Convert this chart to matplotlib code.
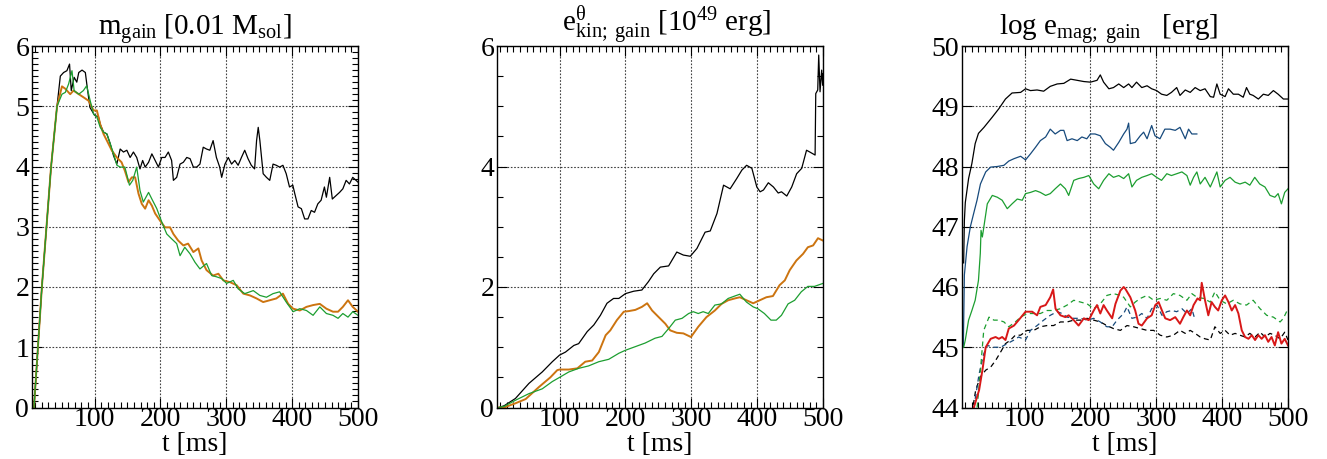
import matplotlib
matplotlib.use("Agg")
import matplotlib.pyplot as plt
from matplotlib.ticker import MultipleLocator, NullLocator

plt.rcParams['font.family'] = ['Liberation Serif', 'DejaVu Serif']
plt.rcParams['mathtext.fontset'] = 'custom'
plt.rcParams['mathtext.rm'] = 'Liberation Serif'
plt.rcParams['mathtext.it'] = 'Liberation Serif:italic'
plt.rcParams['mathtext.default'] = 'rm'

# ---------------- data ----------------
rise_t = [8, 14, 20, 27, 34, 43]
rise_v = [0, 1, 2, 3, 4, 5]

m_black_t = rise_t + [48, 53, 58, 62, 64.6, 69, 73, 76, 81, 86, 89, 93, 100, 106, 108.6, 113.6, 118.7, 123.7, 128.8, 133.8, 138.9, 143.9, 149, 154, 159, 164, 169, 173, 176.8, 182, 187, 192, 197, 202, 207, 212, 217, 219.7, 224.7, 229.8, 234.8, 240, 245, 250, 255, 260, 265, 270, 275, 280, 285, 290, 293, 298, 303, 308, 313, 318, 323, 328, 333, 338, 343, 346, 348.5, 351, 356, 361, 366, 371, 376, 381, 386, 391, 396, 401, 404, 409, 414, 419, 424, 429, 434, 439, 444, 449, 452, 457, 461, 467, 472, 477, 482, 487, 492, 500]
m_black_v = rise_v + [5.5, 5.56, 5.59, 5.7, 5.26, 5.48, 5.4, 5.56, 5.6, 5.56, 5.3, 4.98, 4.85, 4.82, 4.7, 4.57, 4.54, 4.38, 4.18, 4.04, 4.29, 4.24, 4.27, 4.15, 4.24, 4.15, 3.96, 4.1, 3.99, 4.07, 4.21, 4.1, 3.99, 4.15, 4.15, 4.24, 4.1, 3.77, 3.82, 4.04, 4.07, 4.15, 4.13, 3.99, 3.99, 4.04, 4.32, 4.29, 4.27, 4.43, 4.15, 3.99, 3.82, 4.04, 4.15, 4.04, 4.10, 4.02, 4.15, 4.27, 4.13, 4.02, 3.96, 4.43, 4.65, 4.43, 3.88, 3.82, 3.77, 4.04, 4.02, 3.99, 4.02, 3.88, 3.66, 3.69, 3.55, 3.33, 3.30, 3.13, 3.13, 3.27, 3.24, 3.38, 3.44, 3.66, 3.49, 3.82, 3.46, 3.52, 3.57, 3.63, 3.77, 3.71, 3.82, 3.74]

m_orange_t = rise_t + [50.5, 55.6, 63, 68, 76, 83, 91, 98.5, 103.5, 108.6, 113.6, 118.7, 126, 133.8, 141, 146, 151.5, 156.6, 161.6, 166.7, 171.7, 176.8, 182, 187, 192, 199.5, 207, 214.6, 219.7, 227, 234.8, 242, 250, 257.6, 262.6, 270, 280, 288, 295.5, 305.6, 315.7, 325.8, 336, 346, 356, 366, 376, 386, 394, 401.5, 411.6, 421.7, 431.8, 442, 452, 462, 469.7, 477, 484.8, 492, 500]
m_orange_v = rise_v + [5.33, 5.29, 5.2, 5.26, 5.2, 5.15, 5.09, 4.93, 4.93, 4.7, 4.54, 4.43, 4.27, 4.15, 4.07, 3.93, 3.74, 3.82, 3.82, 3.55, 3.38, 3.30, 3.44, 3.35, 3.22, 3.10, 2.99, 2.99, 2.88, 2.77, 2.69, 2.72, 2.58, 2.64, 2.44, 2.28, 2.19, 2.22, 2.11, 2.08, 2.03, 1.89, 1.86, 1.81, 1.75, 1.78, 1.81, 1.89, 1.72, 1.64, 1.61, 1.67, 1.70, 1.72, 1.64, 1.59, 1.59, 1.67, 1.78, 1.67, 1.59]

m_green_t = rise_t + [50.5, 55.6, 60.6, 65.7, 69, 76, 83, 88, 93.4, 98.5, 103.5, 108.6, 113.6, 118.7, 123.7, 128.8, 134, 139, 146, 153, 158, 164, 169, 174, 182, 187, 194.5, 202, 209.6, 217, 224.7, 229.8, 237, 245, 252.5, 260, 270, 277.8, 285, 293, 300.5, 310.6, 318, 328, 341, 351, 361, 371, 381, 391, 401.5, 411.6, 421.7, 431.8, 442, 452, 462, 469.7, 477, 484.8, 492, 500]
m_green_v = rise_v + [5.2, 5.23, 5.37, 5.59, 5.26, 5.2, 5.26, 5.34, 5.09, 4.87, 4.82, 4.65, 4.57, 4.54, 4.38, 4.21, 4.02, 3.99, 3.99, 3.69, 3.77, 3.99, 3.60, 3.41, 3.57, 3.46, 3.30, 3.08, 2.88, 2.80, 2.72, 2.52, 2.66, 2.55, 2.41, 2.30, 2.39, 2.19, 2.17, 2.14, 2.06, 2.11, 1.97, 1.89, 1.94, 1.86, 1.83, 1.89, 1.92, 1.75, 1.59, 1.64, 1.61, 1.53, 1.67, 1.56, 1.53, 1.48, 1.56, 1.50, 1.59, 1.53]

k_black_t = [8, 16, 33, 53.5, 73.7, 89, 100, 109, 121.7, 129, 142, 152, 162, 172, 182, 190, 200, 212.6, 225, 235, 243, 253, 265.6, 278, 288, 298.5, 308.6, 321, 328.8, 339, 349, 359, 369, 376.8, 384, 392, 399.5, 404.5, 409.6, 417, 424.7, 432, 437, 445, 452.5, 460, 467.7, 475, 480, 488, 489, 492, 493.5, 495.5, 498, 499.5, 500]
k_black_v = [0, 0.03, 0.15, 0.40, 0.59, 0.76, 0.87, 0.92, 1.03, 1.06, 1.26, 1.37, 1.53, 1.73, 1.81, 1.81, 1.89, 1.93, 1.95, 2.09, 2.22, 2.33, 2.35, 2.58, 2.53, 2.51, 2.64, 2.91, 2.93, 3.22, 3.69, 3.63, 3.80, 3.94, 4.02, 3.97, 3.66, 3.58, 3.61, 3.73, 3.66, 3.56, 3.58, 3.51, 3.66, 3.88, 3.97, 4.27, 4.24, 4.19, 5.21, 5.27, 5.85, 5.24, 5.6, 5.35, 5.54]

k_orange_t = [8, 15.7, 33, 48.5, 68.7, 86, 96.5, 100, 114, 127, 139, 149.5, 159.6, 170, 177, 187, 197.5, 205, 215, 225, 233, 240.5, 250.5, 260.6, 268, 278, 288, 299.5, 310.6, 323, 335.8, 346, 356, 366, 373.7, 383.8, 394, 404, 414, 424, 434, 442, 449.5, 459.6, 469.7, 477, 485, 492.4, 500]
k_orange_v = [0, 0, 0.07, 0.14, 0.34, 0.5, 0.62, 0.63, 0.63, 0.65, 0.76, 0.78, 0.92, 1.2, 1.28, 1.45, 1.59, 1.60, 1.62, 1.67, 1.73, 1.61, 1.50, 1.39, 1.28, 1.24, 1.23, 1.17, 1.34, 1.50, 1.61, 1.72, 1.78, 1.81, 1.83, 1.78, 1.73, 1.78, 1.83, 1.85, 2.03, 2.11, 2.28, 2.44, 2.55, 2.66, 2.69, 2.81, 2.77]

k_green_t = [8, 16, 33, 53.5, 73.7, 88.9, 100, 114, 129, 144, 159.6, 174.7, 190, 200, 215, 230, 245, 255.5, 265.6, 275.7, 286, 296, 303, 310.6, 318, 325.8, 335.8, 346, 356, 366, 373.7, 383.8, 394, 401, 411, 421, 429, 436.9, 447, 457, 467, 477, 487, 500]
k_green_v = [0, 0.02, 0.12, 0.23, 0.31, 0.43, 0.50, 0.59, 0.65, 0.69, 0.76, 0.80, 0.90, 0.95, 1.01, 1.07, 1.15, 1.18, 1.31, 1.45, 1.48, 1.56, 1.59, 1.56, 1.59, 1.56, 1.70, 1.72, 1.81, 1.85, 1.88, 1.75, 1.67, 1.64, 1.56, 1.45, 1.45, 1.53, 1.72, 1.78, 1.92, 2.01, 2.01, 2.06]

b_black_t = [7.5, 8.6, 10, 15, 20, 25, 30, 38.4, 51, 61, 71, 81, 94, 101.5, 109, 119, 129, 139, 149.5, 159.6, 170, 180, 190, 200, 210, 215, 220, 228, 235, 243, 250.5, 258, 263, 270, 278, 286, 293, 300.5, 308, 316, 323, 331, 336, 344, 351.5, 359, 366.7, 374, 382, 387, 392, 397, 404.5, 409.6, 417, 424.7, 432, 437, 442, 447, 455, 462.6, 470, 477.8, 485, 493, 500]
b_black_v = [46.4, 47.1, 47.4, 47.8, 48.05, 48.38, 48.55, 48.65, 48.82, 48.96, 49.12, 49.22, 49.23, 49.29, 49.26, 49.27, 49.25, 49.33, 49.37, 49.38, 49.45, 49.43, 49.41, 49.40, 49.43, 49.52, 49.40, 49.29, 49.31, 49.37, 49.31, 49.37, 49.31, 49.40, 49.31, 49.34, 49.29, 49.26, 49.2, 49.18, 49.23, 49.31, 49.18, 49.27, 49.23, 49.31, 49.26, 49.29, 49.16, 49.15, 49.37, 49.2, 49.16, 49.29, 49.2, 49.2, 49.15, 49.31, 49.2, 49.18, 49.12, 49.2, 49.18, 49.26, 49.2, 49.12, 49.12]

b_blue_t = [7, 8.6, 12.7, 17.7, 22.7, 27.8, 33, 41, 48.5, 58.6, 68.7, 76, 84, 94, 101.5, 109, 116.7, 124, 132, 139, 146.5, 154.5, 159.6, 164.6, 172, 180, 187, 194.5, 200, 207, 215, 222.7, 230, 235, 243, 250.5, 255.5, 258, 260.6, 268, 275.7, 280.8, 286, 293, 298, 305.6, 313, 321, 328.8, 336, 344, 349, 354, 361.6]
b_blue_v = [45.0, 46.2, 46.67, 47.0, 47.22, 47.44, 47.71, 47.91, 47.99, 48.0, 48.02, 48.09, 48.13, 48.17, 48.11, 48.21, 48.32, 48.43, 48.49, 48.62, 48.54, 48.6, 48.6, 48.43, 48.46, 48.43, 48.49, 48.46, 48.54, 48.54, 48.51, 48.38, 48.32, 48.27, 48.40, 48.54, 48.62, 48.72, 48.38, 48.40, 48.51, 48.57, 48.46, 48.68, 48.51, 48.46, 48.62, 48.62, 48.6, 48.65, 48.46, 48.62, 48.54, 48.54]

b_green_t = [7.6, 10, 15, 20, 25, 30, 32.8, 33.9, 35.9, 43.4, 51, 58.6, 66, 73.7, 81, 88.9, 96.5, 101.5, 109, 116.7, 124, 132, 139, 146.5, 154.5, 162, 167, 174.7, 182, 190, 197.5, 205, 212.6, 220, 228, 235, 243, 250.5, 258, 263, 270, 278, 286, 293, 300.5, 308, 316, 323, 331, 338.9, 346.5, 351.5, 356.6, 361.6, 366.7, 374, 382, 392, 397, 404.5, 412, 419.7, 427, 435, 442, 449.5, 457, 465, 472.7, 480, 485, 490, 495, 500]
b_green_v = [45.0, 45.12, 45.45, 45.61, 45.78, 46.11, 46.56, 46.94, 46.83, 47.38, 47.52, 47.49, 47.44, 47.30, 47.38, 47.46, 47.44, 47.55, 47.57, 47.6, 47.57, 47.52, 47.55, 47.63, 47.71, 47.63, 47.52, 47.77, 47.80, 47.82, 47.85, 47.71, 47.63, 47.77, 47.88, 47.82, 47.85, 47.80, 47.88, 47.66, 47.77, 47.82, 47.85, 47.88, 47.82, 47.77, 47.88, 47.85, 47.88, 47.91, 47.85, 47.69, 47.82, 47.91, 47.71, 47.82, 47.66, 47.91, 47.66, 47.77, 47.82, 47.74, 47.71, 47.74, 47.69, 47.82, 47.71, 47.66, 47.52, 47.49, 47.55, 47.38, 47.57, 47.63]

b_red_t = [23, 31, 36, 41, 48.5, 56, 61, 66, 71, 76, 84, 91, 101.5, 111.6, 119, 124, 132, 139, 143.4, 147, 154.5, 162, 167, 174.7, 182, 190, 197.5, 205, 210, 215, 220, 225, 233, 238, 245.5, 250.5, 253, 260.6, 268, 273, 278, 286, 293, 298.5, 303.5, 308.6, 313.6, 321, 328.8, 336, 341, 346.5, 351.5, 356.6, 362.6, 366.7, 369, 374, 379, 384, 389, 394, 399.5, 404.5, 409.6, 414.6, 419.7, 424.7, 429.8, 434.8, 440, 445, 450, 455, 460, 465, 470, 475, 480, 485, 490, 495, 500]
b_red_v = [44.0, 44.29, 44.62, 45.0, 45.14, 45.17, 45.14, 45.17, 45.12, 45.31, 45.36, 45.45, 45.59, 45.59, 45.53, 45.67, 45.70, 45.83, 45.96, 45.64, 45.53, 45.50, 45.53, 45.45, 45.36, 45.48, 45.45, 45.61, 45.70, 45.56, 45.70, 45.61, 45.48, 45.72, 45.94, 46.0, 45.97, 45.83, 45.61, 45.39, 45.36, 45.48, 45.53, 45.70, 45.75, 45.61, 45.48, 45.45, 45.50, 45.39, 45.50, 45.61, 45.53, 45.70, 45.81, 45.78, 46.07, 45.78, 45.53, 45.75, 45.67, 45.61, 45.78, 45.86, 45.75, 45.61, 45.70, 45.56, 45.28, 45.17, 45.14, 45.20, 45.12, 45.20, 45.14, 45.20, 45.09, 45.17, 45.03, 45.25, 45.06, 45.14, 45.03]

b_greend_t = [28, 33, 38, 46, 53.5, 61, 68.7, 76, 86, 94, 104, 114, 124, 134, 144, 154.5, 164.6, 174.7, 185, 195, 205, 215, 225, 235, 245.5, 250.5, 260.6, 268, 275.7, 286, 296, 306, 316, 326, 336, 346.5, 354, 361.6, 372, 382, 389, 397, 407, 417, 427, 437, 447, 457.6, 467.7, 477.8, 488, 493, 500]
b_greend_v = [44.0, 44.62, 45.28, 45.50, 45.45, 45.45, 45.42, 45.34, 45.42, 45.50, 45.56, 45.56, 45.56, 45.61, 45.61, 45.64, 45.70, 45.78, 45.75, 45.72, 45.64, 45.72, 45.86, 45.89, 45.86, 45.83, 45.67, 45.75, 45.81, 45.86, 45.78, 45.81, 45.78, 45.89, 45.86, 45.78, 45.89, 45.83, 45.81, 45.75, 45.92, 45.78, 45.72, 45.78, 45.72, 45.70, 45.78, 45.64, 45.53, 45.50, 45.42, 45.48, 45.64]

b_blued_t = [23, 31, 38, 43.4, 53.5, 63.6, 73.7, 84, 91, 101.5, 109, 119, 129, 139, 149.5, 157, 164.6, 174.7, 185, 195, 205, 215, 225, 233, 240.4, 250.5, 255.5, 263, 270.7, 278, 286, 293, 301, 308.6, 316, 323.7, 331, 339, 346.5, 354, 357.6]
b_blued_v = [44.0, 44.56, 44.89, 45.03, 45.0, 45.0, 45.06, 45.12, 45.17, 45.12, 45.28, 45.36, 45.45, 45.53, 45.59, 45.56, 45.50, 45.48, 45.48, 45.45, 45.48, 45.42, 45.34, 45.34, 45.45, 45.56, 45.67, 45.48, 45.50, 45.56, 45.48, 45.64, 45.70, 45.53, 45.59, 45.61, 45.59, 45.64, 45.56, 45.64, 45.50]

b_blackd_t = [20, 25.8, 33, 41, 48.5, 56, 63.6, 71, 78.8, 86, 94, 104, 114, 124, 134, 144, 154.5, 164.6, 174.7, 185, 195, 205, 215, 225, 235, 245.5, 255.5, 265.6, 275.7, 286, 296, 306, 316, 326, 336, 344, 351.5, 359, 366.7, 374, 382, 389, 397, 404.5, 412, 419.7, 427, 434.8, 442, 450, 457.6, 465, 472.7, 480, 488, 495, 500]
b_blackd_v = [43.9, 44.29, 44.51, 44.62, 44.67, 44.78, 44.92, 45.06, 45.12, 45.20, 45.20, 45.28, 45.28, 45.34, 45.36, 45.36, 45.42, 45.42, 45.45, 45.45, 45.48, 45.45, 45.42, 45.36, 45.31, 45.28, 45.36, 45.34, 45.31, 45.28, 45.28, 45.20, 45.17, 45.20, 45.28, 45.23, 45.28, 45.23, 45.17, 45.14, 45.12, 45.34, 45.23, 45.28, 45.20, 45.23, 45.20, 45.17, 45.23, 45.17, 45.25, 45.17, 45.23, 45.20, 45.14, 45.25, 45.12]

titles = [r'$\mathrm{m_{gain}\ [0.01\ M_{sol}]}$',
          r'$\mathrm{e^{\theta}_{kin;\ gain}\ [10^{49}\ erg]}$',
          r'$\mathrm{log\ e_{mag;\ gain}\quad [erg]}$']
title_x = [0.5, 0.52, 0.45]
xticks = [100, 200, 300, 400, 500]

C_BLACK = '#000000'
C_ORANGE = '#cc7410'
C_GREEN = '#1c9e30'
C_BLUE = '#174a7c'
C_RED = '#d81818'

# ---------------- figure ----------------
W, H = 1327, 459
fig = plt.figure(figsize=(W / 100, H / 100), dpi=100)
lefts = [32, 497, 962]
ax_w = 326
top, bottom = 46, 407.5
axes = [fig.add_axes([l / W, 1 - bottom / H, ax_w / W, (bottom - top) / H]) for l in lefts]

ax1, ax2, ax3 = axes
ax1.plot(m_black_t, m_black_v, color=C_BLACK, lw=0.9)
ax1.plot(m_orange_t, m_orange_v, color=C_ORANGE, lw=1.4)
ax1.plot(m_green_t, m_green_v, color=C_GREEN, lw=0.9)
ax1.set_ylim(0, 6)
ax1.yaxis.set_major_locator(MultipleLocator(1))
ax1.yaxis.set_minor_locator(MultipleLocator(0.1))

ax2.plot(k_black_t, k_black_v, color=C_BLACK, lw=0.9)
ax2.plot(k_orange_t, k_orange_v, color=C_ORANGE, lw=1.4)
ax2.plot(k_green_t, k_green_v, color=C_GREEN, lw=0.9)
ax2.set_ylim(0, 6)
ax2.yaxis.set_major_locator(MultipleLocator(2))
ax2.yaxis.set_minor_locator(MultipleLocator(0.5))

ax3.plot(b_black_t, b_black_v, color=C_BLACK, lw=0.9)
ax3.plot(b_blue_t, b_blue_v, color=C_BLUE, lw=0.9)
ax3.plot(b_green_t, b_green_v, color=C_GREEN, lw=0.9)
ax3.plot(b_blackd_t, b_blackd_v, color=C_BLACK, lw=0.9, ls=(0, (4, 3)))
ax3.plot(b_blued_t, b_blued_v, color=C_BLUE, lw=0.9, ls=(0, (4, 3)))
ax3.plot(b_greend_t, b_greend_v, color=C_GREEN, lw=0.9, ls=(0, (4, 3)))
ax3.plot(b_red_t, b_red_v, color=C_RED, lw=1.4)
ax3.set_ylim(44, 50)
ax3.yaxis.set_major_locator(MultipleLocator(1))
ax3.yaxis.set_minor_locator(NullLocator())

for ax, title, tx in zip(axes, titles, title_x):
    ax.set_xlim(5, 500)
    ax.set_xticks(xticks)
    ax.xaxis.set_minor_locator(MultipleLocator(10))
    ax.grid(True, which='major', color='0.25', ls=(0, (1.5, 1.5)), lw=0.8)
    ax.tick_params(which='both', direction='in', top=True, right=True, labelsize=20, width=0.8)
    ax.tick_params(which='major', length=7)
    ax.tick_params(which='minor', length=4.5)
    ax.tick_params(axis='x', pad=0)
    ax.tick_params(axis='y', pad=2)
    for s in ax.spines.values():
        s.set_linewidth(1.0)
    ax.set_title(title, fontsize=21, pad=1, x=tx)
    ax.set_xlabel('t [ms]', fontsize=20)
    ax.xaxis.set_label_coords(0.5, -0.068)

fig.savefig('out.png', dpi=100)
